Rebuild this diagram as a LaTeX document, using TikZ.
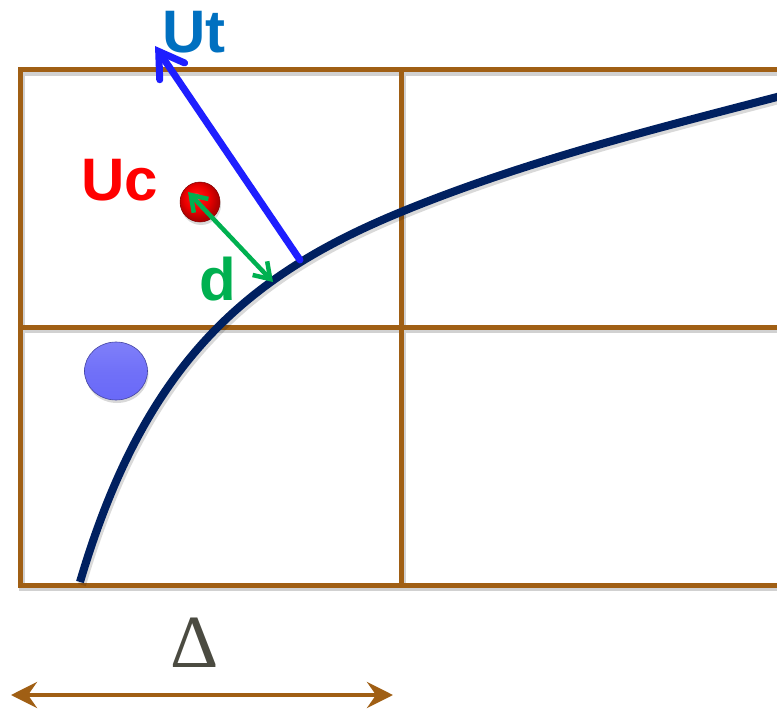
\documentclass[tikz,border=0pt]{standalone}
\usepackage{fontspec}
\setmainfont{Liberation Sans}
\newfontfamily\serifdelta{Liberation Serif}
\usetikzlibrary{arrows.meta,shapes.geometric,shadows}
\definecolor{gridbrown}{RGB}{160,95,20}
\definecolor{curvenavy}{RGB}{0,32,96}
\definecolor{utblue}{RGB}{30,30,255}
\definecolor{uttext}{RGB}{0,112,192}
\definecolor{dgreen}{RGB}{0,176,80}
\definecolor{deltagray}{RGB}{75,75,65}
\definecolor{pblue}{RGB}{105,105,248}
\pgfdeclareradialshading{redball}{\pgfpoint{-6bp}{7bp}}{%
  color(0bp)=(red!30!white); color(6bp)=(red!95!white); color(16bp)=(red!92!black); color(25bp)=(red!70!black); color(50bp)=(red!60!black)}
\tikzset{
  gridline/.style={draw=gridbrown,line width=5pt,line cap=rect},
  bigtext/.style={font=\fontsize{60}{60}\selectfont\bfseries,anchor=base,inner sep=0pt},
}
\def\curvepath{(80,582) .. controls (144.9,361.4) and (248.4,274.7) .. (401,212)
  .. controls (522.2,162.2) and (650.2,130.0) .. (777,97) -- (797,91.8)}
\begin{document}
\begin{tikzpicture}[x=1pt,y=-1pt]
\useasboundingbox (0,0) rectangle (777,709);
\clip (0,0) rectangle (777,709);
% grid shadow
\begin{scope}[shift={(2,3)},opacity=0.18]
\draw[line width=5.5pt,black] (20,70) -- (790,70) (20,70) -- (20,585) -- (790,585)
  (401,70) -- (401,585) (20,327) -- (790,327);
\end{scope}
% grid
\draw[gridline] (790,70) -- (20,70) -- (20,585) -- (790,585);
\draw[gridline] (401,70) -- (401,585);
\draw[gridline] (20,327) -- (790,327);
% curve shadow and curve
\begin{scope}[shift={(2,3)}]
\draw[line width=8pt,black,opacity=0.15] \curvepath;
\end{scope}
\draw[line width=8pt,curvenavy] \curvepath;
\coordinate (c1) at (300,260);
\coordinate (c2) at (273,282);
\coordinate (utip) at (155,46);
\coordinate (gtip) at (188,192);
% particles
\node[circle,minimum size=40pt,inner sep=0pt,shading=redball,draw=red!50!black,line width=0.5pt,
      drop shadow={opacity=0.3,shadow xshift=1pt,shadow yshift=-3pt}] (uc) at (200,202) {};
\node[ellipse,minimum width=63pt,minimum height=58pt,inner sep=0pt,
      top color=pblue!85!white,bottom color=pblue,middle color=pblue!95!white,draw=pblue!65!black,line width=0.6pt,
      drop shadow={opacity=0.3,shadow xshift=1pt,shadow yshift=-3pt}] (pb) at (116,371) {};
% arrows
\draw[utblue,line width=7pt,line cap=round,-{Straight Barb[length=24pt,width=30pt,line cap=round]}] (c1) -- (utip);
\draw[dgreen,line width=4.5pt,{Straight Barb[length=15pt,width=20pt]}-{Straight Barb[length=15pt,width=20pt]}] (gtip) -- (c2);
\coordinate (dl) at (11,695);
\coordinate (dr) at (393,695);
\draw[gridbrown,line width=4pt,{Stealth[length=26pt,width=26pt,inset=9pt]}-{Stealth[length=26pt,width=26pt,inset=9pt]}] (dl) -- (dr);
% labels
\node[bigtext,text=uttext] (ut) at (194,53) {Ut};
\node[bigtext,text=red] (uclab) at (120,200) {Uc};
\node[bigtext,text=dgreen] (dlab) at (218,300) {d};
\node[font=\fontsize{75}{75}\serifdelta,text=deltagray,anchor=base,inner sep=0pt] (delta) at (195,667) {Δ};
\end{tikzpicture}
\end{document}
